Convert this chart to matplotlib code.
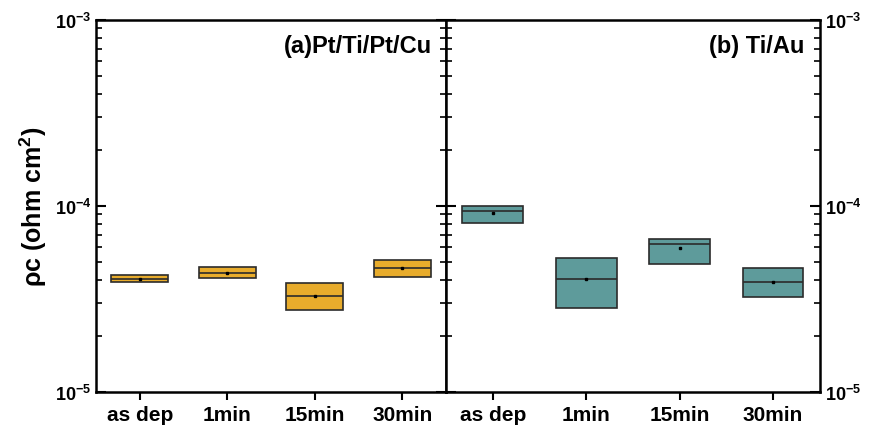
import matplotlib
matplotlib.use("Agg")
import matplotlib.pyplot as plt
from matplotlib.ticker import LogLocator, FixedLocator, NullFormatter

plt.rcParams['font.family'] = ['Liberation Sans', 'DejaVu Sans']
plt.rcParams['mathtext.fontset'] = 'custom'
plt.rcParams['mathtext.rm'] = 'Liberation Sans'
plt.rcParams['mathtext.bf'] = 'Liberation Sans:bold'
plt.rcParams['font.weight'] = 'bold'

categories = ['as dep', '1min', '15min', '30min']

# box stats (ohm cm^2)
ptcu_q1 = [3.90e-5, 4.10e-5, 2.76e-5, 4.15e-5]
ptcu_q3 = [4.26e-5, 4.70e-5, 3.86e-5, 5.13e-5]
ptcu_med = [4.06e-5, 4.36e-5, 3.28e-5, 4.64e-5]
ptcu_mean = [4.06e-5, 4.36e-5, 3.28e-5, 4.64e-5]

tiau_q1 = [8.1e-5, 2.83e-5, 4.88e-5, 3.24e-5]
tiau_q3 = [1.0e-4, 5.25e-5, 6.65e-5, 4.64e-5]
tiau_med = [9.4e-5, 4.06e-5, 6.25e-5, 3.90e-5]
tiau_mean = [9.2e-5, 4.06e-5, 5.94e-5, 3.90e-5]

ytick_vals = [1e-5, 1e-4, 1e-3]
ytick_labels = [r'$\mathbf{10^{-5}}$', r'$\mathbf{10^{-4}}$', r'$\mathbf{10^{-3}}$']


def make_stats(q1, q3, med, mean):
    stats = []
    for a, b, m, mu in zip(q1, q3, med, mean):
        stats.append({'q1': a, 'q3': b, 'med': m, 'mean': mu,
                      'whislo': a, 'whishi': b, 'fliers': []})
    return stats


def draw_panel(ax, q1, q3, med, mean, color, label):
    ax.bxp(make_stats(q1, q3, med, mean), positions=range(1, 5), widths=0.65,
           patch_artist=True, showmeans=True, showcaps=False,
           boxprops=dict(facecolor=color, edgecolor='#2b2b2b', linewidth=1.2),
           medianprops=dict(color='#2b2b2b', linewidth=1.2),
           whiskerprops=dict(linewidth=0),
           meanprops=dict(marker='s', markersize=2, markerfacecolor='black',
                          markeredgecolor='black'))
    ax.set_yscale('log')
    ax.set_ylim(1e-5, 1e-3)
    ax.set_xlim(0.5, 4.5)
    ax.set_xticks(range(1, 5))
    ax.set_xticklabels(categories, fontsize=15, fontweight='bold')
    ax.yaxis.set_major_locator(FixedLocator(ytick_vals))
    ax.yaxis.set_minor_locator(LogLocator(base=10, subs=range(2, 10)))
    ax.yaxis.set_minor_formatter(NullFormatter())
    ax.tick_params(axis='x', direction='out', length=6, width=1.5, top=False)
    ax.tick_params(axis='y', which='major', direction='in', length=7, width=1.5,
                   left=True, right=True)
    ax.tick_params(axis='y', which='minor', direction='in', length=4, width=1.2,
                   left=True, right=True)
    for sp in ax.spines.values():
        sp.set_linewidth(1.8)
    ax.text(0.96, 0.93, label, transform=ax.transAxes, ha='right', va='center',
            fontsize=17, fontweight='bold')


fig = plt.figure(figsize=(8.73, 4.27), dpi=100)
ax1 = fig.add_axes([0.110, 0.080, 0.401, 0.871])
ax2 = fig.add_axes([0.511, 0.080, 0.428, 0.871])

draw_panel(ax1, ptcu_q1, ptcu_q3, ptcu_med, ptcu_mean, '#E8AC2C', '(a)Pt/Ti/Pt/Cu')
draw_panel(ax2, tiau_q1, tiau_q3, tiau_med, tiau_mean, '#5E9B9B', '(b) Ti/Au')

ax1.set_yticklabels(ytick_labels, fontsize=13)
ax1.set_ylabel(r'ρc (ohm cm$^\mathbf{2}$)', fontsize=18, fontweight='bold', labelpad=4)

ax2.yaxis.tick_right()
ax2.tick_params(axis='y', which='both', left=True, right=True, labelleft=False,
                labelright=True)
ax2.set_yticklabels(ytick_labels, fontsize=13)

fig.savefig('out.png', dpi=100)
